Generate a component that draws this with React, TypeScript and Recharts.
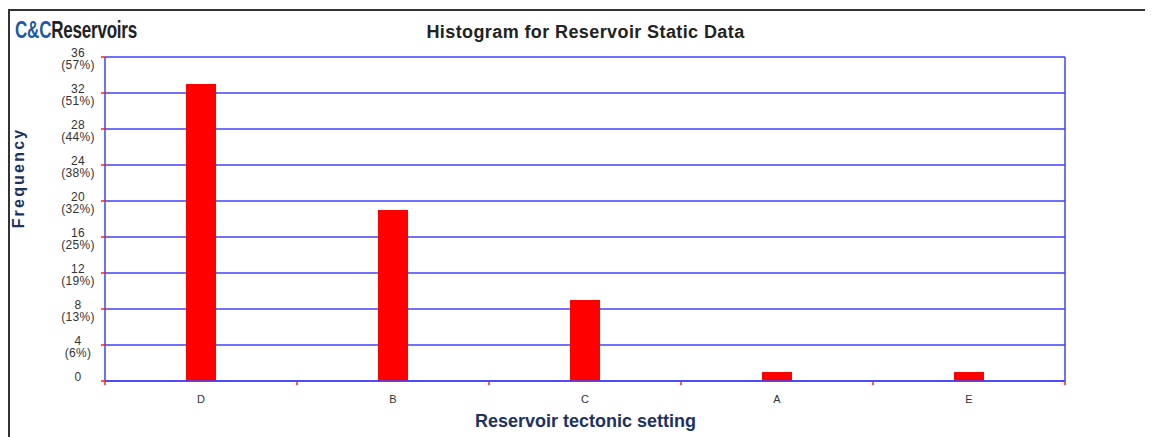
import React from 'react';
import { BarChart, Bar, XAxis, YAxis, CartesianGrid } from 'recharts';

const categories = ['D', 'B', 'C', 'A', 'E'];
const frequencies = [33, 19, 9, 1, 1];
const yTicks = [0, 4, 8, 12, 16, 20, 24, 28, 32, 36];

const total = frequencies.reduce((a, b) => a + b, 0);
const data = categories.map((name, i) => ({ name, count: frequencies[i] }));

const W = 1145;
const H = 429;
const PLOT_LEFT = 97;
const PLOT_RIGHT = 1057;
const BAND = (PLOT_RIGHT - PLOT_LEFT) / categories.length;

const BLUE = '#4040ff';
const NAVY = '#1c3260';

function YTick(props: any) {
  const { x, y, payload } = props;
  const v = payload.value as number;
  const cx = x - 21;
  return (
    <text x={cx} textAnchor="middle" fontFamily="Liberation Sans, Arial" fontSize={12} letterSpacing={0.3} fill="#333">
      <tspan x={cx} y={y}>{v}</tspan>
      {v > 0 && (
        <tspan x={cx} y={y + 12}>({Math.round((v / total) * 100)}%)</tspan>
      )}
    </text>
  );
}

function XTick(props: any) {
  const { x, y, payload, index } = props;
  const left = x - BAND / 2;
  return (
    <g>
      <line x1={left} x2={left} y1={y} y2={y + 4} stroke="#ff2020" strokeWidth={1.5} />
      {index === categories.length - 1 && (
        <line x1={x + BAND / 2} x2={x + BAND / 2} y1={y} y2={y + 4} stroke="#ff2020" strokeWidth={1.5} />
      )}
      <text x={x} y={y + 22} textAnchor="middle" fontFamily="Liberation Sans, Arial" fontSize={11} fill="#333">
        {payload.value}
      </text>
    </g>
  );
}

export default function App() {
  return (
    <div style={{ position: 'relative', width: W, height: H, background: '#fff' }}>
      <div style={{ position: 'absolute', left: 0, top: 1, width: W, height: 2, background: '#333' }} />
      <div style={{ position: 'absolute', left: 0, top: 1, width: 2, height: H, background: '#333' }} />
      <div
        style={{
          position: 'absolute',
          left: 7,
          top: 10,
          fontFamily: 'Liberation Sans Narrow, Liberation Sans, Arial',
          fontWeight: 'bold',
          fontSize: 23,
          lineHeight: '24px',
          letterSpacing: -0.3,
          transform: 'scaleX(0.74)',
          transformOrigin: 'left center',
          whiteSpace: 'nowrap',
        }}
      >
        <span style={{ color: '#1a5aa6' }}>C&amp;C</span>
        <span style={{ color: '#222' }}>Reservoirs</span>
      </div>
      <div
        style={{
          position: 'absolute',
          left: 0,
          width: 1155,
          top: 14,
          textAlign: 'center',
          fontFamily: 'Liberation Sans, Arial',
          fontWeight: 'bold',
          fontSize: 18,
          letterSpacing: 0.4,
          color: '#222',
        }}
      >
        Histogram for Reservoir Static Data
      </div>
      <div
        style={{
          position: 'absolute',
          left: 0,
          width: 1155,
          top: 403,
          textAlign: 'center',
          fontFamily: 'Liberation Sans, Arial',
          fontWeight: 'bold',
          fontSize: 18,
          color: NAVY,
        }}
      >
        Reservoir tectonic setting
      </div>
      <div
        style={{
          position: 'absolute',
          left: 11,
          top: 170,
          transform: 'translate(-50%, -50%) rotate(-90deg)',
          fontFamily: 'Liberation Sans, Arial',
          fontWeight: 'bold',
          fontSize: 16,
          letterSpacing: 2.2,
          color: NAVY,
          whiteSpace: 'nowrap',
        }}
      >
        Frequency
      </div>
      <div style={{ position: 'absolute', left: 0, top: 0 }}>
        <BarChart
          width={W}
          height={H}
          data={data}
          margin={{ top: 49, right: 87, bottom: 26, left: 37 }}
        >
          <CartesianGrid yAxisId="left" vertical={false} stroke={BLUE} strokeWidth={1.5} />
          <XAxis
            dataKey="name"
            height={30}
            axisLine={{ stroke: BLUE, strokeWidth: 1.5 }}
            tickLine={false}
            tickSize={0}
            tickMargin={0}
            tick={<XTick />}
            interval={0}
          />
          <YAxis
            yAxisId="left"
            width={60}
            domain={[0, 36]}
            ticks={yTicks}
            axisLine={{ stroke: BLUE, strokeWidth: 1.5 }}
            tickLine={{ stroke: '#ff2020', strokeWidth: 1.5 }}
            tickSize={4}
            tick={<YTick />}
            interval={0}
          />
          <YAxis
            yAxisId="right"
            orientation="right"
            width={1}
            domain={[0, 36]}
            tick={false}
            tickLine={false}
            axisLine={{ stroke: BLUE, strokeWidth: 1.5 }}
          />
          <Bar yAxisId="left" dataKey="count" fill="#ff0000" barSize={30} isAnimationActive={false} />
        </BarChart>
      </div>
    </div>
  );
}
